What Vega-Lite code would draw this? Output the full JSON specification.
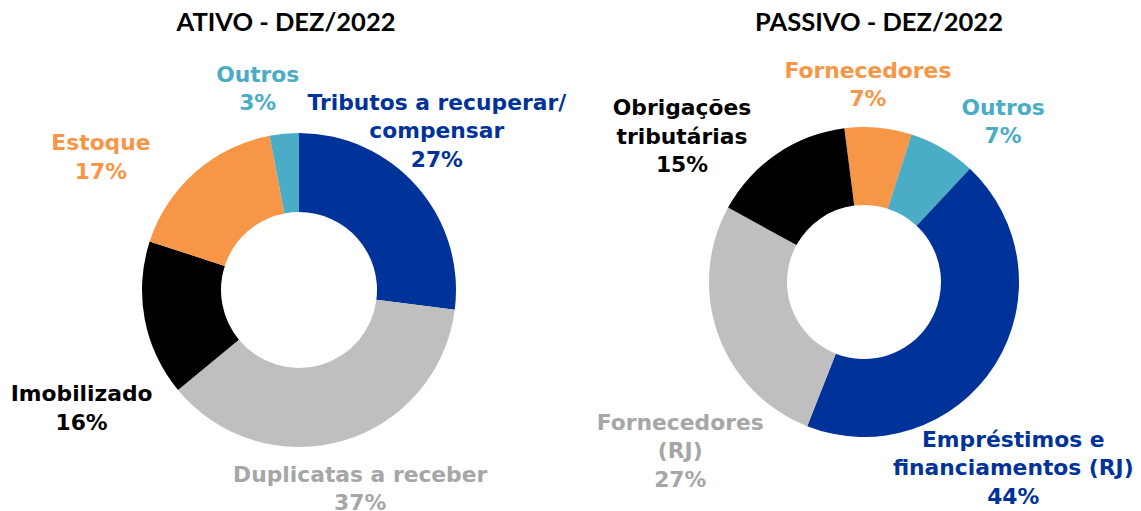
{
  "$schema": "https://vega.github.io/schema/vega-lite/v6.json",
  "padding": {"left": 0, "right": 0, "top": 10, "bottom": 0},
  "background": "white",
  "bounds": "flush",
  "spacing": 0,
  "config": {
    "view": {"stroke": null},
    "title": {"font": "Lato", "fontSize": 25.5, "fontWeight": "bold", "color": "#000000", "anchor": "middle", "offset": 4},
    "text": {"font": "DejaVu Sans", "fontWeight": "bold", "fontSize": 21.8, "lineHeight": 28.5, "align": "center", "baseline": "middle", "lineBreak": "\n"}
  },
  "datasets": {
    "ativo": [
      {"cat": "Tributos a recuperar/compensar", "valor": 27, "ordem": 1, "label": "Tributos a recuperar/\ncompensar\n27%"},
      {"cat": "Duplicatas a receber", "valor": 37, "ordem": 2, "label": "Duplicatas a receber\n37%"},
      {"cat": "Imobilizado", "valor": 16, "ordem": 3, "label": "Imobilizado\n16%"},
      {"cat": "Estoque", "valor": 17, "ordem": 4, "label": "Estoque\n17%"},
      {"cat": "Outros", "valor": 3, "ordem": 5, "label": "Outros\n3%"}
    ],
    "passivo": [
      {"cat": "Fornecedores", "valor": 7, "ordem": 1, "label": "Fornecedores\n7%"},
      {"cat": "Outros", "valor": 7, "ordem": 2, "label": "Outros\n7%"},
      {"cat": "Empréstimos e financiamentos (RJ)", "valor": 44, "ordem": 3, "label": "Empréstimos e\nfinanciamentos (RJ)\n44%"},
      {"cat": "Fornecedores (RJ)", "valor": 27, "ordem": 4, "label": "Fornecedores\n(RJ)\n27%"},
      {"cat": "Obrigações tributárias", "valor": 15, "ordem": 5, "label": "Obrigações\ntributárias\n15%"}
    ]
  },
  "resolve": {"scale": {"color": "independent", "theta": "independent"}},
  "hconcat": [
    {
      "width": 598,
      "height": 500,
      "title": {"text": "ATIVO - DEZ/2022", "dx": -13},
      "data": {"name": "ativo"},
      "encoding": {
        "theta": {"field": "valor", "type": "quantitative", "stack": true},
        "order": {"field": "ordem", "type": "quantitative"}
      },
      "layer": [
        {
          "mark": {"type": "arc", "outerRadius": 157, "innerRadius": 78},
          "encoding": {
            "color": {"field": "cat", "type": "nominal", "legend": null,
              "scale": {"domain": ["Tributos a recuperar/compensar", "Duplicatas a receber", "Imobilizado", "Estoque", "Outros"],
                        "range": ["#003399", "#BFBFBF", "#000000", "#F79646", "#4BACC6"]}}
          }
        },
        {
          "mark": {"type": "text", "radius": 100, "dx": 62.8, "dy": -120.9, "color": "#003399"},
          "encoding": {"text": {"condition": {"test": "datum.ordem === 1", "field": "label"}, "value": ""}}
        },
        {
          "mark": {"type": "text", "radius": 205, "dx": 4, "dy": -12, "color": "#A6A6A6"},
          "encoding": {"text": {"condition": {"test": "datum.ordem === 2", "field": "label"}, "value": ""}}
        },
        {
          "mark": {"type": "text", "radius": 205, "dx": -16, "dy": 66, "color": "#000000"},
          "encoding": {"text": {"condition": {"test": "datum.ordem === 3", "field": "label"}, "value": ""}}
        },
        {
          "mark": {"type": "text", "radius": 205, "dx": -62.5, "dy": 7, "color": "#F79646"},
          "encoding": {"text": {"condition": {"test": "datum.ordem === 4", "field": "label"}, "value": ""}}
        },
        {
          "mark": {"type": "text", "radius": 205, "dx": -22, "dy": -11, "color": "#4BACC6"},
          "encoding": {"text": {"condition": {"test": "datum.ordem === 5", "field": "label"}, "value": ""}}
        }
      ]
    },
    {
      "width": 532,
      "height": 484,
      "title": {"text": "PASSIVO - DEZ/2022", "dx": 15},
      "data": {"name": "passivo"},
      "encoding": {
        "theta": {"field": "valor", "type": "quantitative", "stack": true, "scale": {"range": [-0.1274, 6.1558]}},
        "order": {"field": "ordem", "type": "quantitative"}
      },
      "layer": [
        {
          "mark": {"type": "arc", "outerRadius": 155, "innerRadius": 77},
          "encoding": {
            "color": {"field": "cat", "type": "nominal", "legend": null,
              "scale": {"domain": ["Fornecedores", "Outros", "Empréstimos e financiamentos (RJ)", "Fornecedores (RJ)", "Obrigações tributárias"],
                        "range": ["#F79646", "#4BACC6", "#003399", "#BFBFBF", "#000000"]}}
          }
        },
        {
          "mark": {"type": "text", "radius": 205, "dx": -15, "dy": -7, "color": "#F79646"},
          "encoding": {"text": {"condition": {"test": "datum.ordem === 1", "field": "label"}, "value": ""}}
        },
        {
          "mark": {"type": "text", "radius": 205, "dx": 35, "dy": 2.6, "color": "#4BACC6"},
          "encoding": {"text": {"condition": {"test": "datum.ordem === 2", "field": "label"}, "value": ""}}
        },
        {
          "mark": {"type": "text", "radius": 205, "dx": -24, "dy": 48, "color": "#003399"},
          "encoding": {"text": {"condition": {"test": "datum.ordem === 3", "field": "label"}, "value": ""}}
        },
        {
          "mark": {"type": "text", "radius": 205, "dx": 9, "dy": 71, "color": "#A6A6A6"},
          "encoding": {"text": {"condition": {"test": "datum.ordem === 4", "field": "label"}, "value": ""}}
        },
        {
          "mark": {"type": "text", "radius": 205, "dx": -66.5, "dy": -4.5, "color": "#000000"},
          "encoding": {"text": {"condition": {"test": "datum.ordem === 5", "field": "label"}, "value": ""}}
        }
      ]
    }
  ]
}
